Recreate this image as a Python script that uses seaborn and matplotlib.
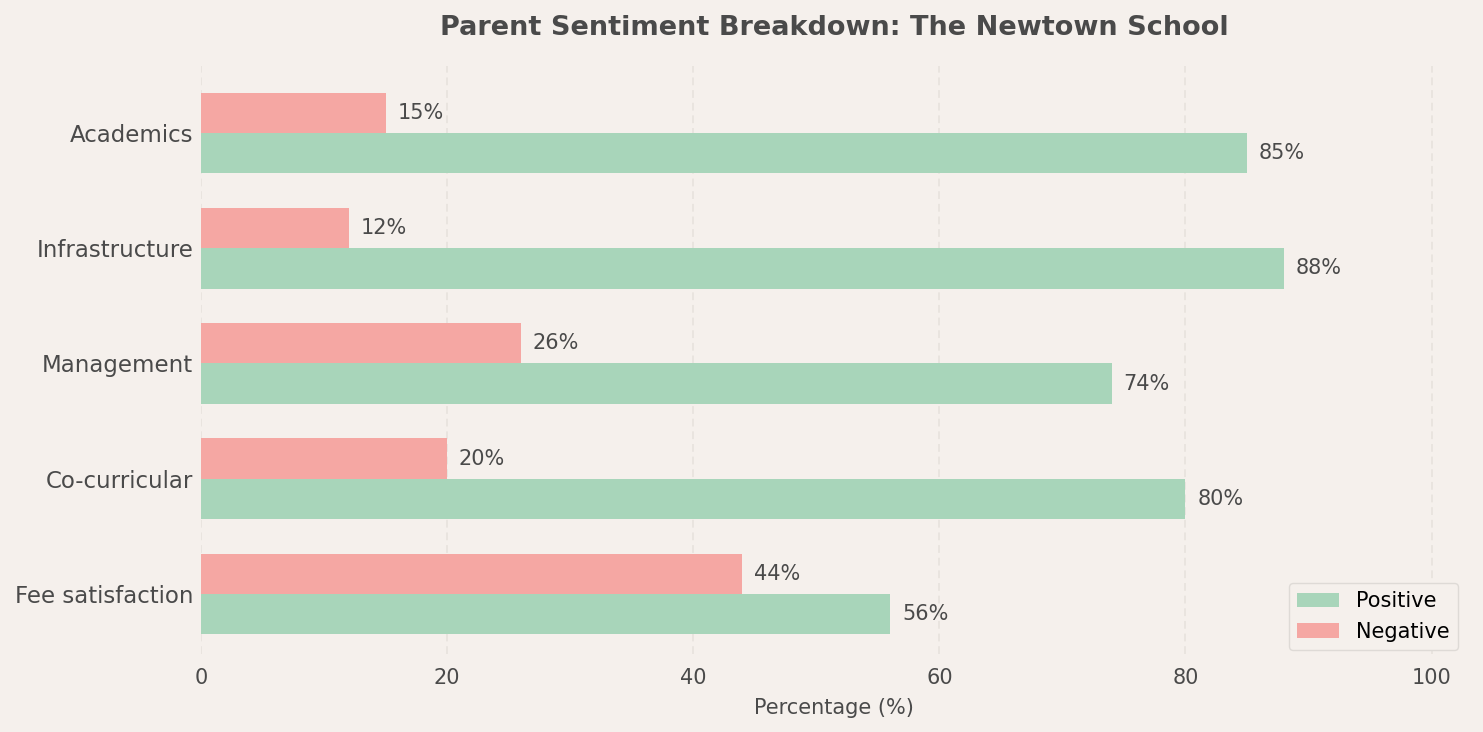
import matplotlib
matplotlib.use("Agg")
import matplotlib.pyplot as plt
import seaborn as sns
import pandas as pd

categories = ["Academics", "Infrastructure", "Management", "Co-curricular", "Fee satisfaction"]
positive = [85, 88, 74, 80, 56]
negative = [15, 12, 26, 20, 44]

BG = "#f5f0ec"
TXT = "#4a4a4a"
POS_C = "#a8d5ba"
NEG_C = "#f5a7a3"

sns.set_theme(style="white")
plt.rcParams['font.family'] = ['DejaVu Sans']

df = pd.DataFrame({
    "Category": categories * 2,
    "Value": positive + negative,
    "Sentiment": ["Positive"] * len(categories) + ["Negative"] * len(categories),
})

fig = plt.figure(figsize=(14.83, 7.32), dpi=100, facecolor=BG)
ax = fig.add_axes([0.1355, 0.1066, 0.8535, 0.8033])
ax.set_facecolor(BG)

sns.barplot(data=df, y="Category", x="Value", hue="Sentiment",
            hue_order=["Negative", "Positive"], order=categories,
            palette={"Positive": POS_C, "Negative": NEG_C},
            orient="h", width=0.7, saturation=1, errorbar=None, ax=ax,
            linewidth=0)

for container in ax.containers:
    ax.bar_label(container, labels=[f"{v.get_width():.0f}%" for v in container],
                 padding=8.5, fontsize=15, color=TXT)

ax.set_xlim(0, 102.85)
ax.set_ylim(len(categories) - 1 + 0.52, -0.581)
ax.set_xticks([0, 20, 40, 60, 80, 100])
ax.set_xlabel("Percentage (%)", fontsize=15, color=TXT, labelpad=7)
ax.set_ylabel("")
ax.tick_params(axis="both", length=0, colors=TXT)
ax.tick_params(axis="y", labelsize=16.5, pad=5.5)
ax.tick_params(axis="x", labelsize=15, pad=10)
for s in ax.spines.values():
    s.set_visible(False)
ax.xaxis.grid(True, linestyle=(0, (4, 2.5)), color="#e9e4df", linewidth=1.4)
ax.yaxis.grid(False)
ax.set_axisbelow(True)

ax.set_title("Parent Sentiment Breakdown: The Newtown School", fontsize=19.5,
             fontweight="bold", color=TXT, pad=22)

handles, labels = ax.get_legend_handles_labels()
order = [labels.index("Positive"), labels.index("Negative")]
leg = ax.legend([handles[i] for i in order], [labels[i] for i in order],
                loc="lower right", fontsize=15, frameon=True,
                facecolor=BG, edgecolor="#dedad6", framealpha=1,
                bbox_to_anchor=(0.9929, 0.0068), borderaxespad=0,
                labelcolor="black")

fig.savefig("out.png", dpi=100, facecolor=BG)
